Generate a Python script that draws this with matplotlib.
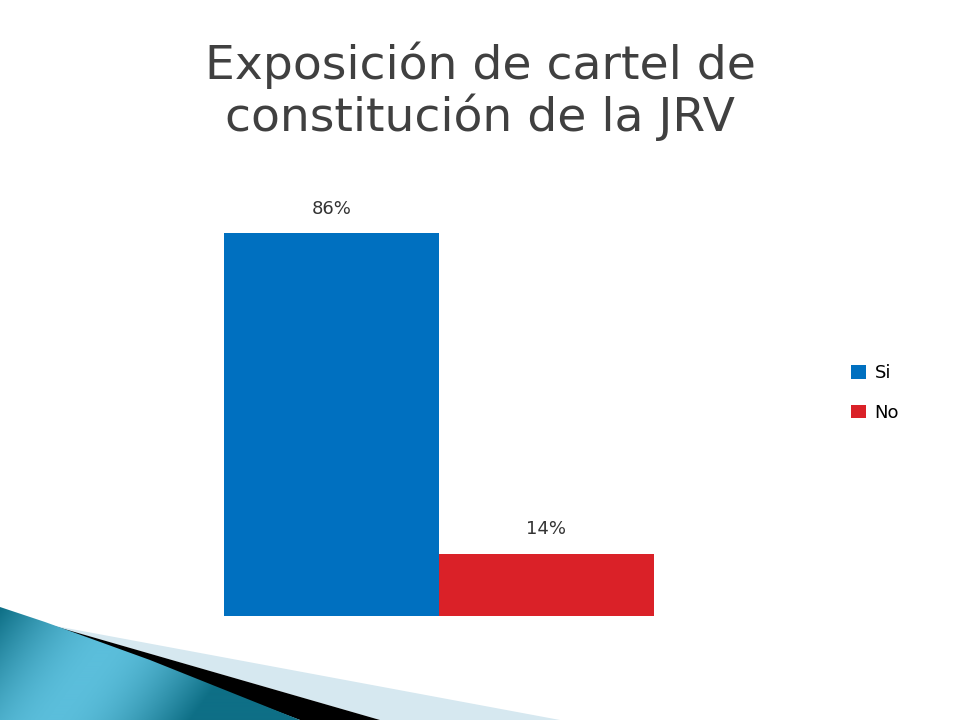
import numpy as np
import matplotlib
matplotlib.use("Agg")
import matplotlib.pyplot as plt
from matplotlib.patches import Polygon

categories = ["Si", "No"]
values = [86, 14]
labels = ["86%", "14%"]
colors = ["#0070C0", "#DA2128"]

plt.rcParams['font.family'] = ['DejaVu Sans']

W, H = 960, 720
fig = plt.figure(figsize=(9.6, 7.2), dpi=100)

# bottom-left slide decoration, in pixel coords of a full-figure axes
deco = fig.add_axes([0, 0, 1, 1])
deco.set_xlim(0, W)
deco.set_ylim(H, 0)
deco.axis("off")
deco.add_patch(Polygon([(50, 625), (560, 720), (380, 720)], closed=True,
                       facecolor="#D6E8F0", edgecolor="none"))
deco.add_patch(Polygon([(40, 622), (380, 720), (300, 720)], closed=True,
                       facecolor="black", edgecolor="none"))
teal = Polygon([(0, 607), (45, 622), (150, 660), (300, 720), (0, 720)], closed=True,
               facecolor="none", edgecolor="none")
deco.add_patch(teal)
xx, yy = np.meshgrid(np.linspace(0, 1, 300), np.linspace(0, 1, 100))
grad = np.sin(np.clip(xx * 1.1 + yy * 0.3, 0, 1) * np.pi)
img = deco.imshow(grad, cmap=matplotlib.colors.LinearSegmentedColormap.from_list(
    "t", ["#0E6F86", "#5BBEDB"]), extent=(0, 300, 720, 607), aspect="auto", zorder=1)
img.set_clip_path(teal)

fig.text(0.5, 1 - 79 / H, "Exposición de cartel de", ha="center", va="baseline",
         fontsize=34, color="#404040")
fig.text(0.5, 1 - 131 / H, "constitución de la JRV", ha="center", va="baseline",
         fontsize=34, color="#404040")

ax = fig.add_axes([224 / W, 1 - 616 / H, 430 / W, 445 / H])
x = np.arange(len(categories))
bars = ax.bar(x, values, width=1.0, color=colors, label=categories)
ax.set_xlim(-0.5, 1.5)
ax.set_ylim(0, 100)
ax.axis("off")
for b, lab in zip(bars, labels):
    ax.text(b.get_x() + b.get_width() / 2, b.get_height() + 3.5, lab,
            ha="center", va="bottom", fontsize=13, color="#333333")

leg = fig.legend(handles=bars, labels=categories, loc="center left",
                 bbox_to_anchor=(835 / W, 1 - 393 / H), frameon=False,
                 fontsize=13, handlelength=0.8, handleheight=0.8,
                 labelspacing=1.2, handletextpad=0.5)

fig.savefig("out.png", dpi=100, facecolor="white")
